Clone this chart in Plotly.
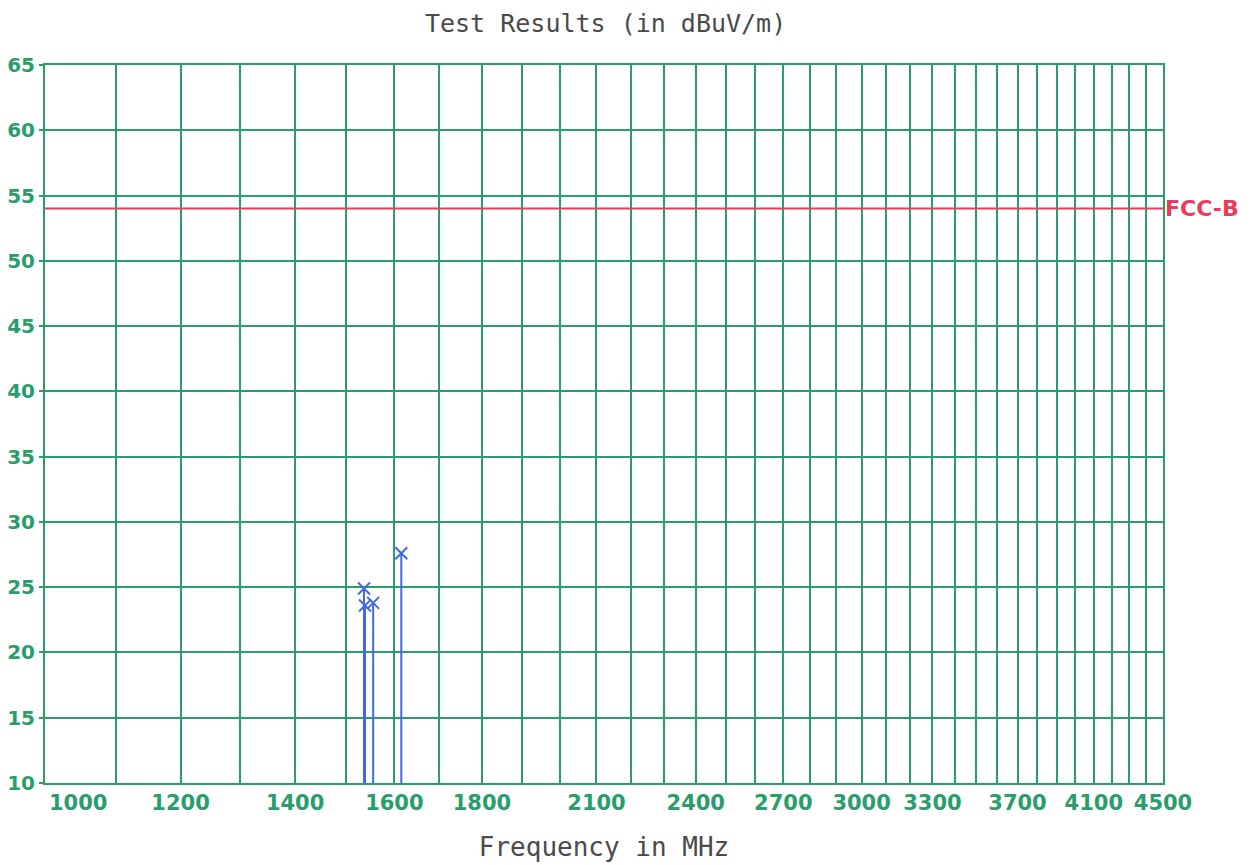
import numpy as np
import plotly.graph_objects as go

# ---- data ----
freqs_mhz = [1536, 1538, 1555, 1615]
levels_dbuv = [24.9, 23.6, 23.8, 27.6]
limit_name = "FCC-B"
limit_value = 54
x_range = [1000, 4500]
y_range = [10, 65]
grid_freqs = list(range(1000, 4501, 100))
label_freqs = [1000, 1200, 1400, 1600, 1800, 2100, 2400, 2700, 3000, 3300, 3700, 4100, 4500]

GREEN = "#2a9d6c"
RED = "#ec3a5a"
BLUE = "#4468e4"
TICKFONT = dict(family="DejaVu Sans", size=21, color=GREEN, weight="bold")
YTICKFONT = dict(family="DejaVu Sans", size=20, color=GREEN, weight="bold")
TEXTFONT = dict(family="DejaVu Sans Mono", size=26, color="#4a4a4a")
TITLEFONT = dict(family="DejaVu Sans Mono", size=25, color="#4a4a4a")

ticktext = [str(f) if (f in label_freqs and f != 1000) else "" for f in grid_freqs]

fig = go.Figure()

# limit line
fig.add_trace(go.Scatter(
    x=x_range, y=[limit_value, limit_value], mode="lines",
    line=dict(color=RED, width=2), hoverinfo="skip", showlegend=False))

# measured points with stems down to the bottom of the axis
fig.add_trace(go.Scatter(
    x=freqs_mhz, y=levels_dbuv, mode="markers",
    marker=dict(symbol="x-thin", size=12, line=dict(width=2, color=BLUE), color=BLUE),
    error_y=dict(type="data", symmetric=False,
                 array=[0] * len(levels_dbuv),
                 arrayminus=[v - y_range[0] for v in levels_dbuv],
                 width=0, thickness=2, color=BLUE),
    showlegend=False))

# page body has an 8px margin, so the figure is 8px smaller than the window
fig.update_layout(
    width=1245, height=857,
    margin=dict(l=37, r=90, t=57, b=82),
    paper_bgcolor="white", plot_bgcolor="white",
    title=dict(text="Test Results (in dBuV/m)", font=TITLEFONT,
               x=0.48, xanchor="center", y=1 - 15 / 857, yanchor="middle", yref="container",
               automargin=False),
    xaxis=dict(type="log", range=[np.log10(x_range[0]), np.log10(x_range[1])],
               tickmode="array", tickvals=grid_freqs, ticktext=ticktext,
               tickfont=TICKFONT, showgrid=True, gridcolor=GREEN, gridwidth=2,
               showline=True, linecolor=GREEN, linewidth=2, mirror=True,
               ticks="", zeroline=False, automargin=False,
               title=dict(text="Frequency in MHz", font=TEXTFONT, standoff=24)),
    yaxis=dict(range=y_range, tickmode="linear", tick0=10, dtick=5,
               tickfont=YTICKFONT, showgrid=True, gridcolor=GREEN, gridwidth=2,
               showline=True, linecolor=GREEN, linewidth=2, mirror=True,
               ticks="outside", ticklen=4, tickcolor=GREEN, tickwidth=2,
               ticklabelstandoff=0,
               zeroline=False, automargin=False),
)

# limit label and the leftmost frequency label (shifted inside the frame)
fig.add_annotation(x=1, xref="paper", y=limit_value, yref="y", text=limit_name,
                   showarrow=False, xanchor="left", yanchor="middle", xshift=0,
                   font=dict(family="DejaVu Sans", size=22, color=RED, weight="bold"))
fig.add_annotation(x=np.log10(label_freqs[0]), xref="x", y=0, yref="paper",
                   text=str(label_freqs[0]), showarrow=False, xanchor="left",
                   yanchor="top", xshift=2, yshift=-6, font=TICKFONT)

fig.write_html("out.html")
